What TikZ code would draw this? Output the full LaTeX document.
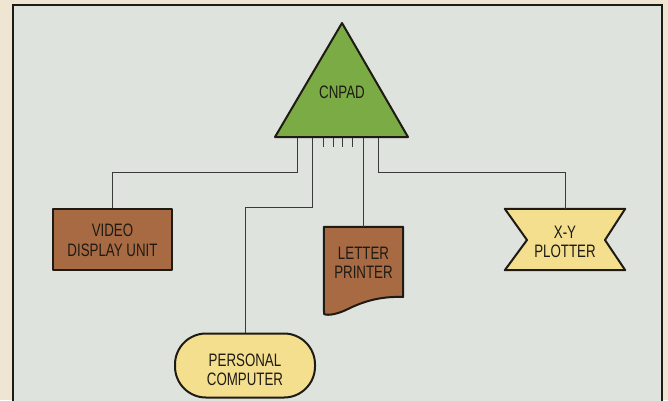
\documentclass[tikz,border=0pt]{standalone}
\usepackage{fontspec}
\setmainfont[FakeStretch=0.74]{Liberation Sans}
\definecolor{outerbg}{HTML}{EFE5D3}
\definecolor{innerbg}{HTML}{DFE3DD}
\definecolor{trigreen}{HTML}{7AAB45}
\definecolor{boxbrown}{HTML}{A86A42}
\definecolor{boxyellow}{HTML}{F4DF8E}
\definecolor{inkc}{HTML}{1E1A14}
\definecolor{wirec}{HTML}{3A3A3A}
\tikzset{
  shapeline/.style={draw=inkc, line width=2pt, line join=round},
  wire/.style={draw=wirec, line width=0.9pt},
  lbl/.style={text=inkc, font=\fontsize{18}{19.5}\selectfont, align=center, inner sep=0pt},
}
\begin{document}
\begin{tikzpicture}[x=1pt,y=-1pt]
\useasboundingbox (0,0) rectangle (668,400);
\fill[outerbg] (0,0) rectangle (668,400);
\draw[fill=innerbg, draw=inkc, line width=1.6pt] (13,5) -- (13,402) -- (662,402) -- (662,5) -- cycle;

% CNPAD triangle
\draw[shapeline, fill=trigreen] (342,23) -- (408,137) -- (275,137) -- cycle;
\node[lbl] (cnpad) at (342,92) {CNPAD};
\coordinate (p1) at (297,138);
\coordinate (p2) at (312,138);
\coordinate (t1) at (323,138);
\coordinate (t2) at (333,138);
\coordinate (t3) at (342,138);
\coordinate (t4) at (352,138);
\coordinate (p3) at (363,138);
\coordinate (p4) at (378,138);

% Video display unit
\node[shapeline, fill=boxbrown, minimum width=119pt, minimum height=61pt, inner sep=0pt] (vdu) at (112.5,239.5) {};
\node[lbl] (vdut) at (112.5,240.5) {VIDEO\\DISPLAY UNIT};

% Personal computer
\node[shapeline, fill=boxyellow, rounded corners=31pt, minimum width=140pt, minimum height=64pt, inner sep=0pt] (pc) at (245,365.5) {};
\node[lbl] (pct) at (245,370) {PERSONAL\\COMPUTER};

% Letter printer
\node[minimum width=79pt, minimum height=70pt, inner sep=0pt] (lp) at (363.5,262) {};
\draw[shapeline, fill=boxbrown] (lp.north west) -- (lp.north east) -- (403,297)
  .. controls (380,296) and (362,302) .. (348,309)
  .. controls (338,314) and (328,316) .. (324,314) -- cycle;
\node[lbl] (lpt) at (363.5,263) {LETTER\\PRINTER};

% X-Y plotter
\node[minimum width=120pt, minimum height=61pt, inner sep=0pt] (xy) at (565,239.5) {};
\draw[shapeline, fill=boxyellow] (xy.north west) -- (xy.north east) -- (605,240) -- (xy.south east) -- (xy.south west) -- (527,240) -- cycle;
\node[lbl] (xyt) at (565,242) {X-Y\\PLOTTER};

% connectors
\draw[wire] (p1) -- (297,172) -| (vdu.north);
\draw[wire] (p2) -- (312,207) -| (pc.north);
\draw[wire] (p3) -- (lp.north -| p3);
\draw[wire] (p4) -- (378,172) -| (xy.north);
\foreach \t in {t1,t2,t3,t4} \draw[wire] (\t) -- ++(0,9);
\end{tikzpicture}
\end{document}
